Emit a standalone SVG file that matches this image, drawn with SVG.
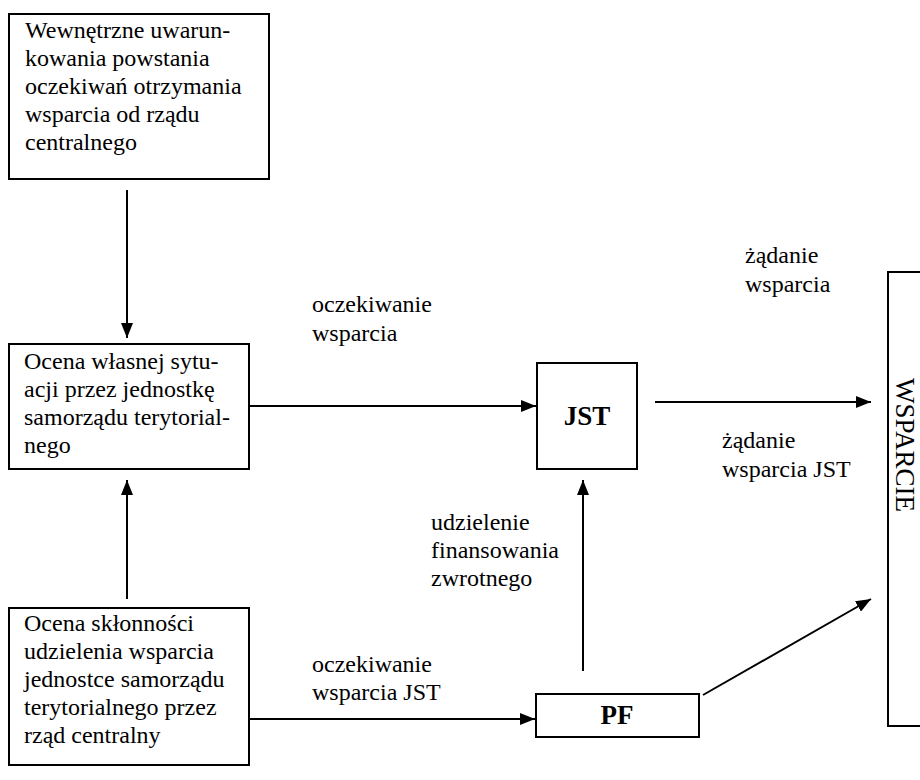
<svg xmlns="http://www.w3.org/2000/svg" width="920" height="780" viewBox="0 0 920 780">
<style>
.box{fill:#fff;stroke:#000;stroke-width:2}
text{font-family:Liberation Serif,Times New Roman,serif;fill:#000}
.t{font-size:24px}
.b{font-size:27px;font-weight:bold}
.ln{fill:none;stroke:#000;stroke-width:2}
</style>
<defs>
<marker id="ah" markerUnits="userSpaceOnUse" markerWidth="16" markerHeight="12" refX="15" refY="6" orient="auto">
<path d="M0,0 L15,6 L0,12 Z" fill="#000"/>
</marker>
</defs>
<rect width="920" height="780" fill="#fff"/>
<g id="n1">
<rect class="box" x="9" y="14" width="260" height="165"/>
<text class="t" font-family="Liberation Serif, Times New Roman, serif"><tspan x="25" y="38">Wewnętrzne uwarun-</tspan><tspan x="25" y="66">kowania powstania</tspan><tspan x="25" y="94">oczekiwań otrzymania</tspan><tspan x="25" y="122">wsparcia od rządu</tspan><tspan x="25" y="150">centralnego</tspan></text>
</g>
<g id="n2">
<rect class="box" x="9" y="344" width="240" height="125"/>
<text class="t" font-family="Liberation Serif, Times New Roman, serif"><tspan x="24" y="369">Ocena własnej sytu-</tspan><tspan x="24" y="397">acji przez jednostkę</tspan><tspan x="24" y="425">samorządu terytorial-</tspan><tspan x="24" y="453">nego</tspan></text>
</g>
<g id="n3">
<rect class="box" x="9" y="608" width="240" height="157"/>
<text class="t" font-family="Liberation Serif, Times New Roman, serif"><tspan x="24" y="631">Ocena skłonności</tspan><tspan x="24" y="659">udzielenia wsparcia</tspan><tspan x="24" y="687">jednostce samorządu</tspan><tspan x="24" y="715">terytorialnego przez</tspan><tspan x="24" y="743">rząd centralny</tspan></text>
</g>
<g id="jst">
<rect class="box" x="537" y="363" width="100" height="106"/>
<text class="b" font-family="Liberation Serif, Times New Roman, serif" x="587" y="425" text-anchor="middle">JST</text>
</g>
<g id="pf">
<rect class="box" x="536" y="694" width="163" height="43"/>
<text class="b" font-family="Liberation Serif, Times New Roman, serif" x="617" y="724" text-anchor="middle">PF</text>
</g>
<g id="wsparcie">
<rect class="box" x="888" y="272" width="40" height="454"/>
<text font-family="Liberation Serif, Times New Roman, serif" font-size="27" transform="translate(896,378) rotate(90)">WSPARCIE</text>
</g>
<g id="connectors">
<line class="ln" x1="127" y1="190" x2="127" y2="338" marker-end="url(#ah)"/>
<line class="ln" x1="127" y1="599" x2="127" y2="480" marker-end="url(#ah)"/>
<line class="ln" x1="249" y1="406" x2="536" y2="406" marker-end="url(#ah)"/>
<line class="ln" x1="249" y1="719" x2="535" y2="719" marker-end="url(#ah)"/>
<line class="ln" x1="655" y1="402" x2="871" y2="402" marker-end="url(#ah)"/>
<line class="ln" x1="583" y1="671" x2="583" y2="480" marker-end="url(#ah)"/>
<line class="ln" x1="703" y1="695" x2="871" y2="599" marker-end="url(#ah)"/>
</g>
<g id="labels" font-family="Liberation Serif, Times New Roman, serif">
<text class="t"><tspan x="312" y="312">oczekiwanie</tspan><tspan x="312" y="341">wsparcia</tspan></text>
<text class="t"><tspan x="745" y="263">żądanie</tspan><tspan x="745" y="292">wsparcia</tspan></text>
<text class="t"><tspan x="722" y="448">żądanie</tspan><tspan x="722" y="477">wsparcia JST</tspan></text>
<text class="t"><tspan x="431" y="530">udzielenie</tspan><tspan x="431" y="558">finansowania</tspan><tspan x="431" y="586">zwrotnego</tspan></text>
<text class="t"><tspan x="312" y="672">oczekiwanie</tspan><tspan x="312" y="700">wsparcia JST</tspan></text>
</g>
</svg>
